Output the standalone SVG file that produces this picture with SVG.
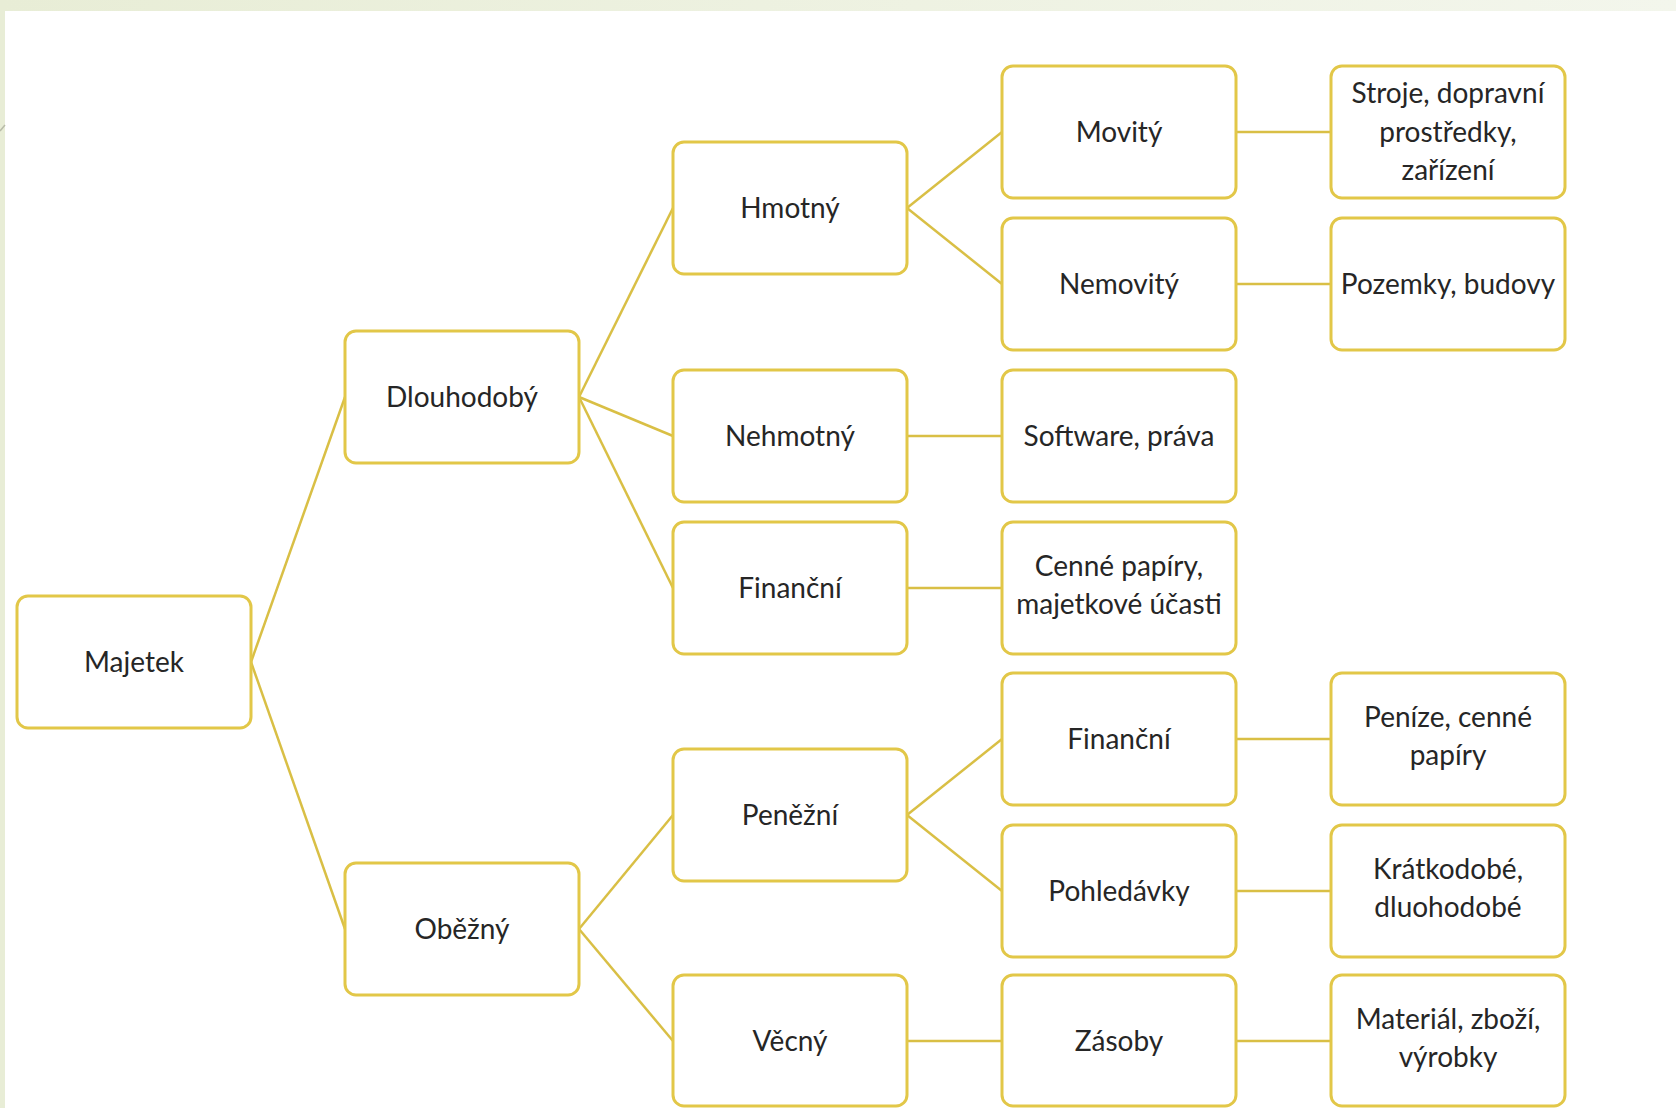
<svg xmlns="http://www.w3.org/2000/svg" width="1676" height="1108" viewBox="0 0 1676 1108">
<defs>
<linearGradient id="bg" x1="0" y1="0" x2="1" y2="0">
<stop offset="0" stop-color="#E8EDD6"/>
<stop offset="1" stop-color="#F3F6EC"/>
</linearGradient>
<style>
.box{fill:#FFFFFF;stroke:#E2C748;stroke-width:3}
.lbl{font-family:Lato,"Liberation Sans",sans-serif;font-size:28px;fill:#262626;text-anchor:middle}
.con line{stroke:#D9BF45;stroke-width:2.5;fill:none}
</style>
</defs>
<rect x="0" y="0" width="1676" height="1108" fill="url(#bg)"/>
<rect x="5" y="11" width="1671" height="1097" fill="#FFFFFF"/>
<line x1="0" y1="131" x2="5" y2="125" stroke="#B8BBA8" stroke-width="1.5"/>

<g id="connectors" class="con">
<line x1="251" y1="662" x2="345" y2="397"/>
<line x1="251" y1="662" x2="345" y2="929"/>
<line x1="579" y1="397" x2="673" y2="208"/>
<line x1="579" y1="397" x2="673" y2="436"/>
<line x1="579" y1="397" x2="673" y2="588"/>
<line x1="579" y1="929" x2="673" y2="815"/>
<line x1="579" y1="929" x2="673" y2="1041"/>
<line x1="907" y1="208" x2="1002" y2="132"/>
<line x1="907" y1="208" x2="1002" y2="284"/>
<line x1="907" y1="436" x2="1002" y2="436"/>
<line x1="907" y1="588" x2="1002" y2="588"/>
<line x1="907" y1="815" x2="1002" y2="739"/>
<line x1="907" y1="815" x2="1002" y2="891"/>
<line x1="907" y1="1041" x2="1002" y2="1041"/>
<line x1="1236" y1="132" x2="1331" y2="132"/>
<line x1="1236" y1="284" x2="1331" y2="284"/>
<line x1="1236" y1="739" x2="1331" y2="739"/>
<line x1="1236" y1="891" x2="1331" y2="891"/>
<line x1="1236" y1="1041" x2="1331" y2="1041"/>
</g>

<g id="n-majetek"><rect class="box" x="17" y="596" width="234" height="132" rx="11"/><text class="lbl" x="134" y="672">Majetek</text></g>
<g id="n-dlouhodoby"><rect class="box" x="345" y="331" width="234" height="132" rx="11"/><text class="lbl" x="462" y="407">Dlouhodobý</text></g>
<g id="n-obezny"><rect class="box" x="345" y="863" width="234" height="132" rx="11"/><text class="lbl" x="462" y="939">Oběžný</text></g>

<g id="n-hmotny"><rect class="box" x="673" y="142" width="234" height="132" rx="11"/><text class="lbl" x="790" y="218">Hmotný</text></g>
<g id="n-nehmotny"><rect class="box" x="673" y="370" width="234" height="132" rx="11"/><text class="lbl" x="790" y="446">Nehmotný</text></g>
<g id="n-financni1"><rect class="box" x="673" y="522" width="234" height="132" rx="11"/><text class="lbl" x="790" y="598">Finanční</text></g>
<g id="n-penezni"><rect class="box" x="673" y="749" width="234" height="132" rx="11"/><text class="lbl" x="790" y="825">Peněžní</text></g>
<g id="n-vecny"><rect class="box" x="673" y="975" width="234" height="131" rx="11"/><text class="lbl" x="790" y="1051">Věcný</text></g>

<g id="n-movity"><rect class="box" x="1002" y="66" width="234" height="132" rx="11"/><text class="lbl" x="1119" y="142">Movitý</text></g>
<g id="n-nemovity"><rect class="box" x="1002" y="218" width="234" height="132" rx="11"/><text class="lbl" x="1119" y="294">Nemovitý</text></g>
<g id="n-software"><rect class="box" x="1002" y="370" width="234" height="132" rx="11"/><text class="lbl" x="1119" y="446">Software, práva</text></g>
<g id="n-cenne"><rect class="box" x="1002" y="522" width="234" height="132" rx="11"/><text class="lbl" x="1119" y="576">Cenné papíry,</text><text class="lbl" x="1119" y="614">majetkové účasti</text></g>
<g id="n-financni2"><rect class="box" x="1002" y="673" width="234" height="132" rx="11"/><text class="lbl" x="1119" y="749">Finanční</text></g>
<g id="n-pohledavky"><rect class="box" x="1002" y="825" width="234" height="132" rx="11"/><text class="lbl" x="1119" y="901">Pohledávky</text></g>
<g id="n-zasoby"><rect class="box" x="1002" y="975" width="234" height="131" rx="11"/><text class="lbl" x="1119" y="1051">Zásoby</text></g>

<g id="n-stroje"><rect class="box" x="1331" y="66" width="234" height="132" rx="11"/><text class="lbl" x="1448" y="103">Stroje, dopravní</text><text class="lbl" x="1448" y="142">prostředky,</text><text class="lbl" x="1448" y="180">zařízení</text></g>
<g id="n-pozemky"><rect class="box" x="1331" y="218" width="234" height="132" rx="11"/><text class="lbl" x="1448" y="294">Pozemky, budovy</text></g>
<g id="n-penize"><rect class="box" x="1331" y="673" width="234" height="132" rx="11"/><text class="lbl" x="1448" y="727">Peníze, cenné</text><text class="lbl" x="1448" y="765">papíry</text></g>
<g id="n-kratkodobe"><rect class="box" x="1331" y="825" width="234" height="132" rx="11"/><text class="lbl" x="1448" y="879">Krátkodobé,</text><text class="lbl" x="1448" y="917">dluohodobé</text></g>
<g id="n-material"><rect class="box" x="1331" y="975" width="234" height="131" rx="11"/><text class="lbl" x="1448" y="1029">Materiál, zboží,</text><text class="lbl" x="1448" y="1067">výrobky</text></g>
</svg>
